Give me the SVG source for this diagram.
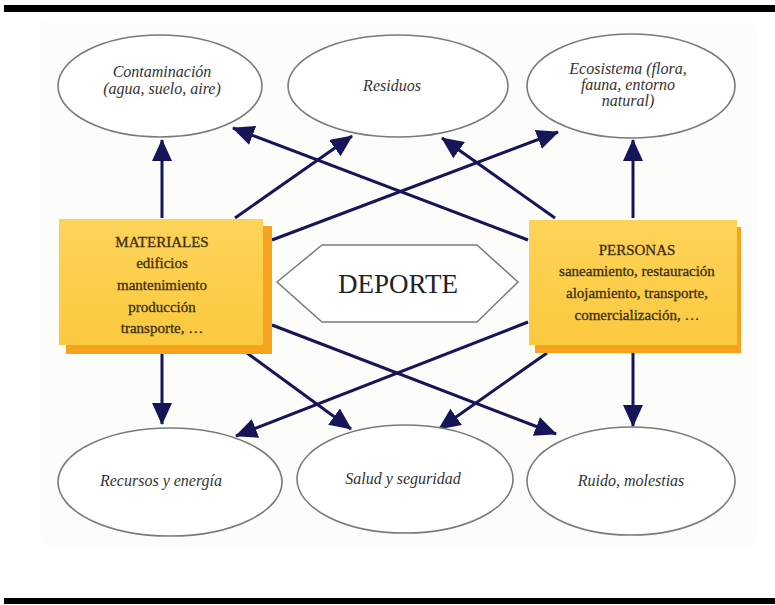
<svg xmlns="http://www.w3.org/2000/svg" width="775" height="605" viewBox="0 0 775 605">
<defs>
<marker id="ah" markerUnits="userSpaceOnUse" markerWidth="22" markerHeight="20" viewBox="0 0 22 20" refX="21" refY="10" orient="auto">
<path d="M0,0 L22,10 L0,20 Z" fill="#16155a"/>
</marker>
<linearGradient id="yel" x1="0" y1="0" x2="0" y2="1">
<stop offset="0" stop-color="#fdd35a"/>
<stop offset="1" stop-color="#fbc93e"/>
</linearGradient>
<style>
.ell{fill:#fff;stroke:#7a7a78;stroke-width:1.6}
.et{font-family:"Liberation Serif","Times New Roman",serif;font-style:italic;font-size:16px;fill:#333;text-anchor:middle}
.bt{font-family:"Liberation Serif","Times New Roman",serif;font-size:15px;fill:#3a2e14;stroke:#3a2e14;stroke-width:0.3;text-anchor:middle}
.sh{fill:#f7a31d}
.bx{fill:url(#yel)}
.cn line{stroke:#16155a;stroke-width:3;marker-end:url(#ah)}
</style>
</defs>
<rect x="0" y="0" width="775" height="605" fill="#fff"/>
<rect x="4" y="5" width="771" height="7" fill="#000"/>
<rect x="4" y="598" width="771" height="6" fill="#000"/>
<rect x="40" y="22" width="717" height="523" rx="8" fill="#fcfcfa"/>

<g class="cn">
<line x1="162" y1="218" x2="162" y2="140"/>
<line x1="235" y1="218" x2="352" y2="136"/>
<line x1="528" y1="240" x2="233" y2="128"/>
<line x1="272" y1="240" x2="558" y2="132"/>
<line x1="555" y1="218" x2="442" y2="138"/>
<line x1="633" y1="218" x2="633" y2="140"/>
<line x1="162" y1="352" x2="162" y2="424"/>
<line x1="247" y1="353" x2="351" y2="429"/>
<line x1="272" y1="325" x2="556" y2="434"/>
<line x1="528" y1="322" x2="236" y2="436"/>
<line x1="547" y1="353" x2="439" y2="429"/>
<line x1="633" y1="352" x2="633" y2="426"/>
</g>

<g id="contaminacion">
<ellipse class="ell" cx="160" cy="86" rx="102" ry="51"/>
<text class="et" x="162" y="77">Contaminación</text>
<text class="et" x="162" y="94">(agua, suelo, aire)</text>
</g>
<g id="residuos">
<ellipse class="ell" cx="398" cy="86" rx="110" ry="51"/>
<text class="et" x="392" y="91">Residuos</text>
</g>
<g id="ecosistema">
<ellipse class="ell" cx="631" cy="86" rx="104" ry="52"/>
<text class="et" x="628" y="74">Ecosistema (flora,</text>
<text class="et" x="628" y="90">fauna, entorno</text>
<text class="et" x="628" y="106">natural)</text>
</g>
<g id="recursos">
<ellipse class="ell" cx="170" cy="482" rx="112" ry="54"/>
<text class="et" x="161" y="486">Recursos y energía</text>
</g>
<g id="salud">
<ellipse class="ell" cx="405" cy="479" rx="108" ry="54"/>
<text class="et" x="403" y="484">Salud y seguridad</text>
</g>
<g id="ruido">
<ellipse class="ell" cx="631" cy="481" rx="104" ry="54"/>
<text class="et" x="631" y="486">Ruido, molestias</text>
</g>

<g id="materiales">
<rect class="sh" x="66" y="226" width="206" height="128"/>
<rect class="bx" x="59" y="219" width="204" height="126"/>
<text class="bt" x="162" y="247">MATERIALES</text>
<text class="bt" x="162" y="268">edificios</text>
<text class="bt" x="162" y="290">mantenimiento</text>
<text class="bt" x="162" y="312">producción</text>
<text class="bt" x="162" y="333">transporte, …</text>
</g>
<g id="personas">
<rect class="sh" x="535" y="227" width="206" height="126"/>
<rect class="bx" x="529" y="220" width="208" height="125"/>
<text class="bt" x="637" y="255">PERSONAS</text>
<text class="bt" x="637" y="276">saneamiento, restauración</text>
<text class="bt" x="637" y="298">alojamiento, transporte,</text>
<text class="bt" x="637" y="320">comercialización, …</text>
</g>
<g id="deporte">
<polygon points="277,282 322,245 477,245 518,282 477,322 322,322" fill="#fff" stroke="#7a7a78" stroke-width="1.5"/>
<text x="398" y="293" font-family="'Liberation Serif','Times New Roman',serif" font-size="27" fill="#222" text-anchor="middle">DEPORTE</text>
</g>
</svg>
